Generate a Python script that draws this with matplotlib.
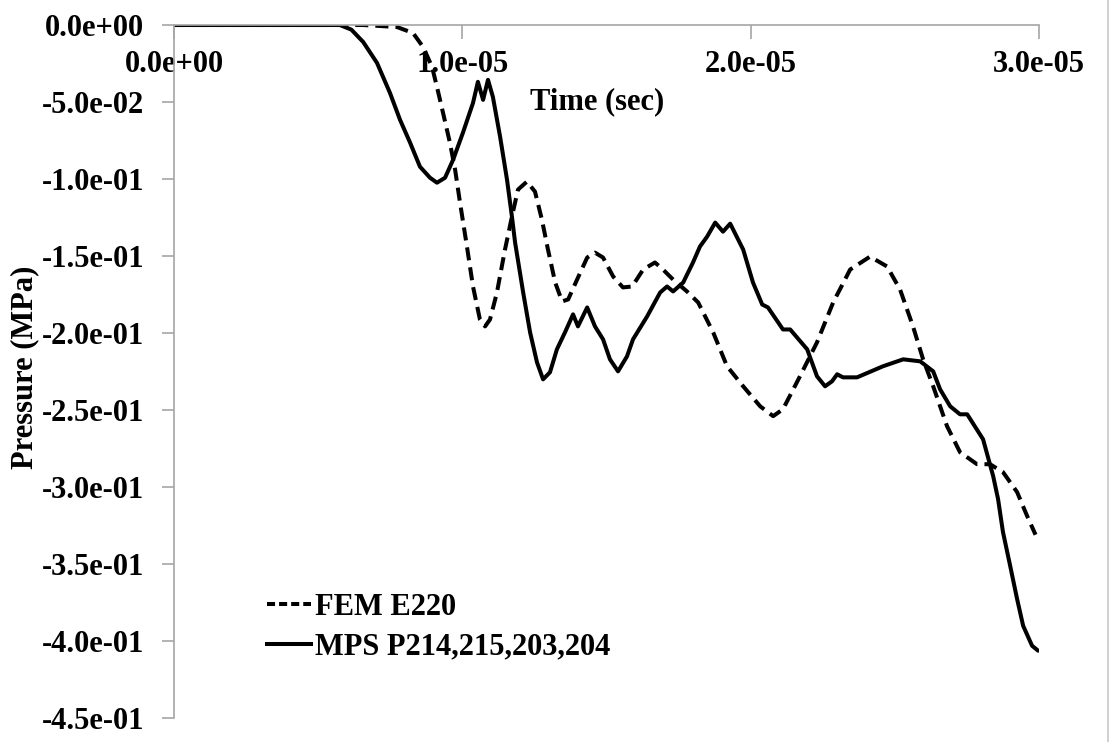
#!/usr/bin/env python3
"""
Pressure history at the gauge point: FEM element vs. averaged MPS particles.
"""

import numpy as np
import matplotlib
matplotlib.use('Agg')
import matplotlib.pyplot as plt
from matplotlib.lines import Line2D

# time in microseconds, pressure in MPa
fem_time_us = [0.0, 6.56, 7.73, 8.29, 8.64, 8.95, 9.12, 9.33, 9.57, 9.75, 9.92,
               10.16, 10.37, 10.61, 10.79, 10.96, 11.20, 11.48, 11.72, 11.93,
               12.24, 12.52, 12.76, 12.97, 13.22, 13.46, 13.67, 13.98, 14.33,
               14.60, 14.88, 15.23, 15.57, 15.89, 16.27, 16.68, 16.96, 17.31,
               17.79, 18.18, 18.70, 19.18, 19.74, 20.33, 20.78, 21.12, 21.71,
               22.30, 22.86, 23.45, 24.14, 24.73, 25.18, 25.63, 25.98, 26.33,
               26.81, 27.26, 27.85, 28.30, 28.75, 29.24, 29.59, 29.88]
fem_pressure = [0.0, 0.0, -0.0013, -0.0052, -0.0143, -0.0272, -0.0402, -0.0570,
                -0.0765, -0.0940, -0.1154, -0.1439, -0.1698, -0.1912, -0.1957,
                -0.1912, -0.1737, -0.1458, -0.1244, -0.1069, -0.1017, -0.1082,
                -0.1264, -0.1458, -0.1672, -0.1795, -0.1782, -0.1653, -0.1510,
                -0.1478, -0.1510, -0.1633, -0.1704, -0.1698, -0.1588, -0.1542,
                -0.1588, -0.1653, -0.1730, -0.1802, -0.1996, -0.2216, -0.2346,
                -0.2476, -0.2540, -0.2495, -0.2281, -0.2061, -0.1802, -0.1588,
                -0.1504, -0.1568, -0.1717, -0.1957, -0.2171, -0.2346, -0.2605,
                -0.2774, -0.2852, -0.2852, -0.2903, -0.3033, -0.3189, -0.3310]

mps_time_us = [0.0, 5.75, 6.15, 6.56, 7.04, 7.49, 7.84, 8.19, 8.53, 8.88, 9.12,
               9.40, 9.68, 10.02, 10.37, 10.54, 10.72, 10.89, 11.06, 11.31,
               11.55, 11.72, 11.83, 12.11, 12.35, 12.59, 12.80, 13.04, 13.28,
               13.56, 13.84, 14.01, 14.33, 14.60, 14.88, 15.12, 15.40, 15.71,
               15.92, 16.41, 16.86, 17.10, 17.31, 17.66, 18.00, 18.24, 18.49,
               18.77, 19.04, 19.29, 19.74, 20.08, 20.40, 20.60, 21.12, 21.37,
               21.96, 22.30, 22.58, 22.82, 23.00, 23.20, 23.69, 24.59, 25.29,
               25.88, 26.33, 26.57, 26.92, 27.26, 27.51, 28.06, 28.41, 28.58,
               28.75, 29.00, 29.24, 29.45, 29.76, 29.97]
mps_pressure = [0.0, 0.0, -0.0030, -0.0110, -0.0246, -0.0441, -0.0616, -0.0765,
                -0.0920, -0.0992, -0.1024, -0.0992, -0.0875, -0.0700, -0.0506,
                -0.0369, -0.0486, -0.0356, -0.0467, -0.0726, -0.1005, -0.1244,
                -0.1413, -0.1737, -0.1996, -0.2191, -0.2301, -0.2255, -0.2106,
                -0.1996, -0.1879, -0.1957, -0.1834, -0.1957, -0.2041, -0.2171,
                -0.2249, -0.2152, -0.2041, -0.1892, -0.1737, -0.1698, -0.1730,
                -0.1672, -0.1542, -0.1439, -0.1374, -0.1283, -0.1342, -0.1290,
                -0.1458, -0.1672, -0.1815, -0.1834, -0.1977, -0.1977, -0.2106,
                -0.2281, -0.2346, -0.2314, -0.2268, -0.2288, -0.2288, -0.2216,
                -0.2171, -0.2184, -0.2249, -0.2366, -0.2476, -0.2528, -0.2528,
                -0.2690, -0.2929, -0.3078, -0.3292, -0.3512, -0.3727, -0.3901,
                -0.4031, -0.4063]

x_ticks = [0.0, 1.0e-5, 2.0e-5, 3.0e-5]
y_ticks = [0.0, -0.05, -0.10, -0.15, -0.20, -0.25, -0.30, -0.35, -0.40, -0.45]

plt.rcParams['font.family'] = ['Liberation Serif', 'DejaVu Serif']
plt.rcParams['font.weight'] = 'bold'
FS = 22
LW = 2.9
AXIS_GREY = '#a6a6a6'


def main():
    fig = plt.figure(figsize=(11.10, 7.42), dpi=100)
    ax = fig.add_axes([174 / 1110, 1 - 718 / 742, 865 / 1110, 693 / 742])

    fem_t = np.array(fem_time_us) * 1e-6
    mps_t = np.array(mps_time_us) * 1e-6

    ax.plot(fem_t, fem_pressure, color='black', lw=LW,
            dashes=(3.25, 1.75), dash_capstyle='butt', label='FEM E220')
    ax.plot(mps_t, mps_pressure, color='black', lw=LW,
            solid_joinstyle='round', solid_capstyle='round',
            label='MPS P214,215,203,204')

    ax.set_xlim(0, 3.0e-5)
    ax.set_ylim(-0.45, 0)

    # x axis drawn along p = 0 at the top, labels hang below it
    for s in ('top', 'right'):
        ax.spines[s].set_visible(False)
    ax.spines['bottom'].set_position(('axes', 1.0))
    for s in ('bottom', 'left'):
        ax.spines[s].set_color(AXIS_GREY)
        ax.spines[s].set_linewidth(1.2)

    ax.set_xticks(x_ticks)
    ax.set_xticklabels(['%.1e' % v for v in x_ticks])
    ax.set_yticks(y_ticks)
    ax.set_yticklabels(['%.1e' % v for v in y_ticks])
    ax.tick_params(axis='x', direction='out', length=10, width=1.2,
                   color=AXIS_GREY, pad=8, labelsize=FS)
    ax.tick_params(axis='y', direction='out', length=9, width=1.2,
                   color=AXIS_GREY, pad=12.5, labelsize=FS)
    for lab in ax.get_xticklabels() + ax.get_yticklabels():
        lab.set_fontweight('bold')

    ax.set_xlabel('Time (sec)', fontsize=FS, fontweight='bold')
    ax.xaxis.label.set_va('center')
    ax.xaxis.set_label_coords((597 - 174) / 865, 1 - (102 - 25) / 693)
    ax.set_ylabel('Pressure (MPa)', fontsize=FS, fontweight='bold')
    ax.yaxis.label.set_va('center')
    ax.yaxis.set_label_coords((25 - 174) / 865, 1 - (367 - 25) / 693)

    handles = [Line2D([], [], color='black', lw=LW, dashes=(2.0, 1.0),
                      dash_capstyle='butt'),
               Line2D([], [], color='black', lw=LW)]
    ax.legend(handles, ['FEM E220', 'MPS P214,215,203,204'],
              loc='upper left', bbox_to_anchor=((267 - 174) / 865, 1 - (593 - 25) / 693),
              frameon=False, handlelength=1.45, handletextpad=0.12,
              labelspacing=0.35, borderpad=0, borderaxespad=0,
              prop={'weight': 'bold', 'size': FS})

    # chart area border on the right edge
    fig.add_artist(Line2D([1108 / 1110, 1108 / 1110], [0, 1], color='#c8c8c8',
                          lw=1.2, transform=fig.transFigure))

    fig.savefig('out.png', dpi=100)


if __name__ == '__main__':
    main()
